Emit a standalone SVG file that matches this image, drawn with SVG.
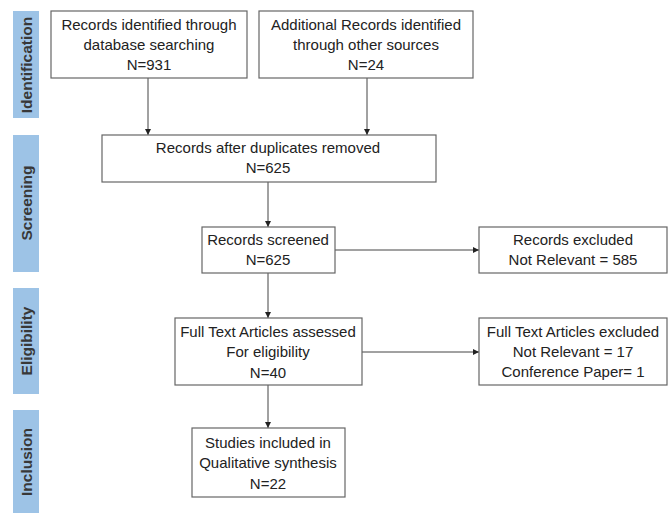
<svg xmlns="http://www.w3.org/2000/svg" width="672" height="513" viewBox="0 0 672 513">
<style>
.bar{fill:#9dc3e6}
.bl{font-family:"Liberation Sans",Arial,sans-serif;font-size:15.5px;font-weight:bold;fill:#383838;text-anchor:middle}
.box{fill:#fff;stroke:#666;stroke-width:1.2}
.t{font-family:"Liberation Sans",Arial,sans-serif;font-size:15px;fill:#222;text-anchor:middle}
.c{stroke:#444;stroke-width:1;fill:none;marker-end:url(#ah)}
</style>
<defs>
<marker id="ah" viewBox="0 0 6 6" refX="6" refY="3" markerWidth="6" markerHeight="6" markerUnits="userSpaceOnUse" orient="auto">
<path d="M0,0 L6,3 L0,6 z" fill="#222"/>
</marker>
</defs>
<g id="phase-identification"><rect class="bar" x="13" y="11" width="26" height="107"/><text class="bl" transform="translate(32,65) rotate(-90)">Identification</text></g>
<g id="phase-screening"><rect class="bar" x="13" y="135" width="26" height="137"/><text class="bl" transform="translate(32,203) rotate(-90)">Screening</text></g>
<g id="phase-eligibility"><rect class="bar" x="13" y="288" width="26" height="106"/><text class="bl" transform="translate(32,341) rotate(-90)">Eligibility</text></g>
<g id="phase-inclusion"><rect class="bar" x="13" y="410" width="26" height="103"/><text class="bl" transform="translate(32,462) rotate(-90)">Inclusion</text></g>

<g id="connectors">
<line class="c" x1="148" y1="78" x2="148" y2="135"/>
<line class="c" x1="367" y1="78" x2="367" y2="135"/>
<line class="c" x1="268" y1="182" x2="268" y2="227"/>
<line class="c" x1="335" y1="250" x2="479" y2="250"/>
<line class="c" x1="268" y1="273" x2="268" y2="318"/>
<line class="c" x1="362" y1="352" x2="479" y2="352"/>
<line class="c" x1="268" y1="385" x2="268" y2="428"/>
</g>

<g id="n1"><rect class="box" x="51" y="11" width="196" height="67"/>
<text class="t" x="149" y="30">Records identified through</text>
<text class="t" x="149" y="50">database searching</text>
<text class="t" x="149" y="70">N=931</text></g>
<g id="n2"><rect class="box" x="259" y="11" width="214" height="67"/>
<text class="t" x="366" y="30">Additional Records identified</text>
<text class="t" x="366" y="50">through other sources</text>
<text class="t" x="366" y="70">N=24</text></g>
<g id="n3"><rect class="box" x="102" y="135" width="334" height="47"/>
<text class="t" x="268" y="153">Records after duplicates removed</text>
<text class="t" x="268" y="173">N=625</text></g>
<g id="n4"><rect class="box" x="202" y="227" width="133" height="46"/>
<text class="t" x="268" y="245">Records screened</text>
<text class="t" x="268" y="265">N=625</text></g>
<g id="n5"><rect class="box" x="479" y="227" width="188" height="46"/>
<text class="t" x="573" y="245">Records excluded</text>
<text class="t" x="573" y="265">Not Relevant = 585</text></g>
<g id="n6"><rect class="box" x="175" y="318" width="187" height="67"/>
<text class="t" x="268" y="337">Full Text Articles assessed</text>
<text class="t" x="268" y="357">For eligibility</text>
<text class="t" x="268" y="378">N=40</text></g>
<g id="n7"><rect class="box" x="479" y="318" width="188" height="67"/>
<text class="t" x="573" y="337">Full Text Articles excluded</text>
<text class="t" x="573" y="357">Not Relevant = 17</text>
<text class="t" x="573" y="377">Conference Paper= 1</text></g>
<g id="n8"><rect class="box" x="192" y="428" width="153" height="69"/>
<text class="t" x="268" y="448">Studies included in</text>
<text class="t" x="268" y="468">Qualitative synthesis</text>
<text class="t" x="268" y="489">N=22</text></g>
</svg>
